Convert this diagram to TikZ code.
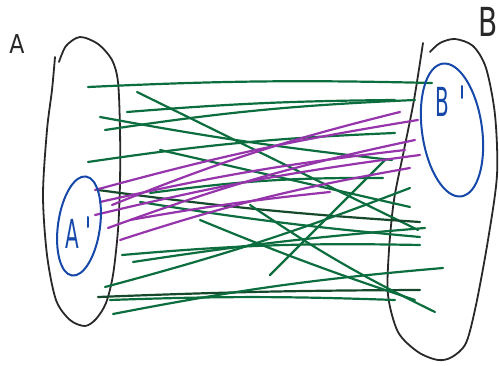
\documentclass[tikz,border=0pt]{standalone}
\usepackage{fontspec}
\newfontfamily\hand{DejaVu Sans}
\definecolor{pgreen}{RGB}{12,110,62}
\definecolor{dgreen}{RGB}{22,72,44}
\definecolor{ppurple}{RGB}{150,52,172}
\definecolor{pblue}{RGB}{22,72,170}
\definecolor{pblack}{RGB}{40,40,40}
\tikzset{
  outline/.style={draw=pblack,line width=1.8pt,line cap=round,line join=round},
  subset/.style={draw=pblue,line width=2pt,line cap=round},
  gline/.style={draw=pgreen,line width=2.2pt,line cap=round},
  dline/.style={draw=dgreen,line width=2.2pt,line cap=round},
  pline/.style={draw=ppurple,line width=2.2pt,line cap=round},
  lab/.style={font=\hand,inner sep=0pt},
}
\begin{document}
\begin{tikzpicture}[x=1pt,y=-1pt]
\useasboundingbox (0,0) rectangle (499,366);
% labels
\node[lab,text=pblack,font=\hand\fontsize{26}{26}\selectfont,xscale=0.85] (la) at (17,44) {A};
\node[lab,text=pblack,font=\hand\fontsize{40}{40}\selectfont,xscale=0.7,anchor=east] (lb) at (498,22) {B};
% big set A
\draw[outline] plot[smooth] coordinates {(59,62) (66,46) (80,37) (98,44) (112,60) (118,82) (120,130) (120,183) (118,230) (113,275) (106,303) (96,319) (85,326) (70,320) (56,300) (47,255) (43,195) (47,130) (52,90) (55,57)};
% big set B
\draw[outline] plot[smooth] coordinates {(430,52) (440,43) (455,39) (473,46) (486,68) (495,115) (497,175) (488,240) (476,305) (466,343) (452,357) (438,360) (418,352) (398,332) (388,295) (389,250) (394,200) (404,150) (414,100) (423,43)};
% lines green
\draw[gline] (88,87) to[bend left=2] (432,83);
\draw[gline] (137,92) -- (418,230);
\draw[gline] (127,112) to[bend left=2] (395,100);
\draw[gline] (100,117) to[bend right=2] (392,160);
\draw[gline] (105,130) to[bend left=3] (415,100);
\draw[gline] (88,162) to[bend left=3] (395,133);
\draw[dline] (98,190) to[bend right=2] (420,222);
\draw[gline] (150,193) to[bend left=4] (383,178);
\draw[gline] (160,150) -- (410,207);
\draw[gline] (140,202) to[bend right=2] (420,237);
\draw[gline] (122,255) to[bend left=3] (420,245);
\draw[gline] (133,262) to[bend left=2] (425,228);
\draw[gline] (105,287) to[bend right=3] (410,188);
\draw[dline] (98,297) to[bend left=1] (420,290);
\draw[gline] (113,314) to[bend left=3] (443,268);
\draw[gline] (200,220) to[bend right=2] (415,300);
\draw[gline] (250,205) to[bend right=4] (435,312);
\draw[gline] (110,300) to[bend left=2] (395,300);
\draw[gline] (270,275) -- (385,160);
% lines purple
\draw[pline] (95,190) to[bend left=3] (418,120);
\draw[pline] (100,202) to[bend left=3] (405,150);
\draw[pline] (95,215) to[bend left=3] (420,155);
\draw[pline] (108,228) to[bend left=4] (415,140);
\draw[pline] (120,240) to[bend left=4] (410,168);
\draw[pline] (130,220) to[bend left=2] (330,192);
\draw[pline] (112,205) to[bend left=4] (400,112);
% subsets
\draw[subset,rotate around={-8:(79,226)}] (79,226) ellipse [x radius=21, y radius=50];
\node[lab,text=pblue,font=\hand\fontsize{40}{40}\selectfont,xscale=0.5] (lap) at (72,234) {A};
\draw[subset] (88,217) -- (88,227);
\draw[subset,rotate around={8:(452,130)}] (452,130) ellipse [x radius=30, y radius=67];
\node[lab,text=pblue,font=\hand\fontsize{40}{40}\selectfont,xscale=0.5] (lbp) at (442,102) {B};
\draw[subset] (462,86) -- (462,98);
\end{tikzpicture}
\end{document}
